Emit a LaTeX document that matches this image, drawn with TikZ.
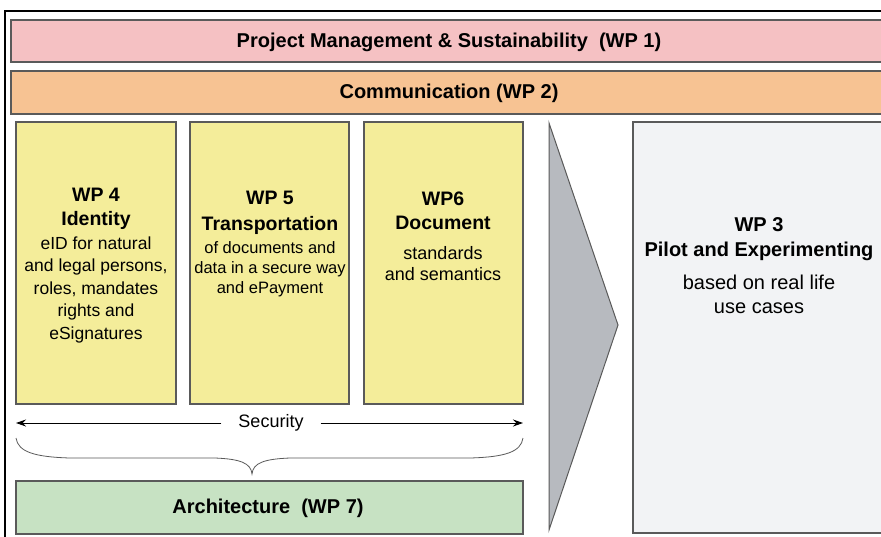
\documentclass[tikz,border=0pt]{standalone}
\usepackage{fontspec}
\setmainfont{Liberation Sans}
\usetikzlibrary{arrows.meta}
\definecolor{pinkc}{HTML}{F5C1C3}
\definecolor{orangec}{HTML}{F7C393}
\definecolor{yellowc}{HTML}{F4ED9A}
\definecolor{greenc}{HTML}{C7E2C3}
\definecolor{wpthree}{HTML}{F2F3F5}
\definecolor{grayc}{HTML}{B7BABF}
\definecolor{edgec}{HTML}{5A5A5A}
\newcommand{\hd}{\fontsize{19.5}{22}\selectfont\bfseries}
\tikzset{
  band/.style={draw=edgec, line width=1.3pt, rectangle},
  wpbox/.style={draw=edgec, line width=1.3pt, fill=yellowc},
  wptext/.style={align=center, inner sep=0pt, anchor=base},
  bandtext/.style={font=\bfseries\fontsize{20}{22}\selectfont, inner sep=0pt},
}
\begin{document}
\begin{tikzpicture}[x=1pt,y=-1pt]
\useasboundingbox (0,0) rectangle (881,536);
\clip (0,0) rectangle (881,536);
\fill[white] (0,0) rectangle (881,536);
% outer frame
\draw[line width=2.5pt, black] (5,11) rectangle (900,560);
% WP1 and WP2 bands
\draw[band, fill=pinkc] (11,20) rectangle (895,62);
\node[bandtext] (wp1) at (449,42) {Project Management \& Sustainability\ \ (WP 1)};
\draw[band, fill=orangec] (11,71) rectangle (895,114);
\node[bandtext] (wp2) at (449,93) {Communication (WP 2)};
% WP4, WP5, WP6
\draw[wpbox] (16,122) rectangle (176,404);
\draw[wpbox] (190,122) rectangle (349,404);
\draw[wpbox] (364,122) rectangle (523,404);
\node[wptext, font=\fontsize{17.5}{22.5}\selectfont] (wp4) at (96,339)
  {\hd WP 4\\[1.5pt]\hd Identity\\[1.5pt]eID for natural\\and legal persons,\\roles, mandates\\rights and\\eSignatures};
\node[wptext, font=\fontsize{16.5}{20}\selectfont] (wp5) at (270,293)
  {\hd WP 5\\[6pt]\hd Transportation\\[3pt]of documents and\\data in a secure way\\and ePayment};
\node[wptext, font=\fontsize{18}{21}\selectfont] (wp6) at (443,280)
  {\hd WP6\\[3pt]\hd Document\\[9pt]standards\\and semantics};
% Security arrow
\coordinate (secL) at (16,423);
\coordinate (secR) at (523,423);
\node[font=\fontsize{18}{20}\selectfont, inner xsep=17pt, inner ysep=2pt] (sec) at (271,423) {Security};
\draw[-{Stealth[length=10pt,width=7pt]}, line width=1pt] (sec.west) -- (secL);
\draw[-{Stealth[length=10pt,width=7pt]}, line width=1pt] (sec.east) -- (secR);
% brace
\coordinate (brtip) at (252,474);
\draw[line width=0.8pt, edgec] (16,438) .. controls (18,452) and (35,457) .. (70,458) -- (215,458) .. controls (240,459) and (251,463) .. (brtip)
  .. controls (253,463) and (264,459) .. (290,458) -- (470,458) .. controls (505,457) and (521,452) .. (523,438);
% Architecture
\draw[band, fill=greenc] (16,481) rectangle (523,534);
\node[bandtext] (wp7) at (268,508) {Architecture\ \ (WP 7)};
% big arrow triangle
\draw[fill=grayc, draw=edgec, line width=1pt] (549,123) -- (618,325) -- (549,530) -- cycle;
% WP3
\draw[band, fill=wpthree] (633,122) rectangle (895,533);
\node[wptext, font=\fontsize{20}{24}\selectfont] (wp3) at (759,313)
  {\bfseries WP 3\\[1pt]\bfseries Pilot and Experimenting\\[9pt]based on real life\\use cases};
\end{tikzpicture}
\end{document}
